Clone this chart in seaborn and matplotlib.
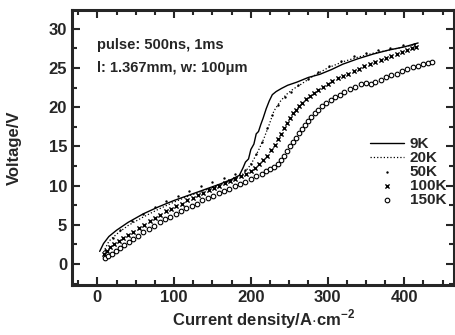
import seaborn as sns
import matplotlib.pyplot as plt
from matplotlib.ticker import MultipleLocator

# Datos (densidad de corriente A/cm², voltaje V)
x_9k = [3, 8, 15, 25, 40, 60, 80, 100, 120, 140, 160, 175, 185, 190, 193, 197, 200, 204, 207, 210,
        213, 216, 220, 224, 228, 233, 240, 248, 260, 275, 290, 305, 320, 340, 360, 380, 400, 418]
v_9k = [1.6, 2.6, 3.5, 4.3, 5.3, 6.4, 7.3, 8.1, 8.8, 9.5, 10.2, 10.8, 11.3, 12.3, 13.0, 13.4, 14.6, 15.3, 16.6, 16.9,
        17.8, 18.6, 19.8, 20.8, 21.6, 22.0, 22.4, 22.8, 23.2, 23.8, 24.2, 24.8, 25.5, 26.2, 26.8, 27.3, 27.7, 28.2]

x_20k = [8, 15, 25, 40, 60, 80, 100, 120, 140, 160, 180, 190, 197, 203, 210, 217, 224, 230, 238, 246,
         255, 265, 280, 300, 320, 340, 360, 380, 400, 415]
v_20k = [1.5, 2.9, 3.8, 4.9, 6.0, 7.0, 7.9, 8.7, 9.4, 10.1, 10.9, 11.5, 12.3, 13.2, 14.5, 16.0, 17.8, 19.5, 20.7, 21.6,
         22.3, 22.9, 23.9, 25.0, 25.8, 26.4, 26.9, 27.3, 27.7, 28.0]

x_50k = [10, 20, 30, 45, 60, 75, 90, 105, 120, 135, 150, 165, 180, 192, 200, 207, 214, 221, 228, 236,
         244, 252, 262, 274, 288, 302, 318, 334, 350, 366, 382, 398, 412]
v_50k = [1.8, 3.3, 4.3, 5.5, 6.4, 7.3, 8.0, 8.7, 9.3, 9.9, 10.5, 11.0, 11.5, 12.0, 12.8, 14.0, 15.6, 17.3, 19.0, 20.3,
         21.3, 22.0, 22.8, 23.6, 24.5, 25.2, 25.9, 26.5, 26.9, 27.3, 27.6, 27.9, 28.1]

x_100k = [8, 12, 17, 22, 28, 34, 40, 47, 54, 61, 68, 75, 82, 89, 96, 103, 110, 117, 124, 131,
          138, 145, 152, 159, 166, 173, 180, 187, 194, 200, 206, 211, 216, 221, 226, 231, 235, 239, 243, 247,
          251, 255, 259, 263, 267, 272, 277, 282, 288, 294, 300, 306, 313, 320, 327, 334, 341, 348, 355, 362,
          369, 376, 383, 390, 397, 404, 410, 415]
v_100k = [1.3, 1.7, 2.1, 2.5, 2.9, 3.3, 3.7, 4.1, 4.6, 5.0, 5.5, 5.9, 6.3, 6.7, 7.0, 7.4, 7.7, 8.1, 8.4, 8.8,
          9.1, 9.4, 9.7, 10.0, 10.3, 10.6, 10.9, 11.2, 11.5, 11.9, 12.3, 12.7, 13.2, 13.8, 14.5, 15.2, 15.9, 16.6, 17.3, 18.0,
          18.6, 19.2, 19.7, 20.2, 20.6, 21.0, 21.4, 21.8, 22.2, 22.6, 22.9, 23.3, 23.7, 24.0, 24.3, 24.6, 24.9, 25.2, 25.5, 25.8,
          26.0, 26.3, 26.5, 26.8, 27.0, 27.3, 27.5, 27.7]

x_150k = [10, 14, 19, 24, 29, 35, 41, 47, 53, 60, 67, 74, 81, 88, 95, 102, 109, 116, 123, 130,
          137, 144, 151, 158, 165, 172, 179, 186, 193, 200, 207, 214, 220, 225, 230, 235, 239, 243, 247, 251,
          255, 259, 263, 267, 271, 275, 279, 283, 288, 293, 298, 304, 310, 316, 322, 329, 336, 343, 350, 356,
          362, 369, 376, 383, 390, 397, 404, 411, 418, 425, 431, 436]
v_150k = [0.8, 1.0, 1.3, 1.7, 2.0, 2.4, 2.8, 3.2, 3.6, 4.1, 4.5, 4.9, 5.3, 5.7, 6.0, 6.4, 6.7, 7.1, 7.4, 7.7,
          8.1, 8.4, 8.7, 9.0, 9.3, 9.6, 9.9, 10.2, 10.5, 10.9, 11.2, 11.5, 11.8, 12.1, 12.4, 12.8, 13.2, 13.8, 14.4, 15.0,
          15.6, 16.1, 16.7, 17.2, 17.7, 18.2, 18.7, 19.2, 19.7, 20.1, 20.5, 20.9, 21.3, 21.6, 21.9, 22.3, 22.6, 22.9, 23.1, 22.9,
          23.2, 23.5, 23.8, 24.1, 24.3, 24.6, 24.9, 25.1, 25.3, 25.5, 25.7, 25.8]

sns.set_style("ticks")
plt.rcParams['font.family'] = ['Liberation Sans', 'DejaVu Sans']
plt.rcParams['font.weight'] = 'bold'
plt.rcParams['mathtext.fontset'] = 'custom'
plt.rcParams['mathtext.bf'] = 'Liberation Sans:bold'
plt.rcParams['mathtext.rm'] = 'Liberation Sans:bold'

fig = plt.figure(figsize=(4.56, 3.35), dpi=100)
ax = fig.add_axes([0.158, 0.149, 0.838, 0.821])

sns.lineplot(x=x_9k, y=v_9k, sort=False, estimator=None, color='black', lw=1.0, label='9K', ax=ax)
sns.lineplot(x=x_20k, y=v_20k, sort=False, estimator=None, color='black', lw=0.9, linestyle=':', label='20K', ax=ax)
sns.scatterplot(x=x_50k, y=v_50k, color='black', marker='o', s=3, linewidth=0, label='50K', ax=ax)
sns.scatterplot(x=x_100k, y=v_100k, color='black', marker='x', s=9, linewidth=1.0, label='100K', ax=ax)
sns.scatterplot(x=x_150k, y=v_150k, facecolor='white', edgecolor='black', marker='o', s=11,
                linewidth=0.8, label='150K', ax=ax)

ax.set_xlim(-33, 465)
ax.set_ylim(-2.7, 32.4)
ax.xaxis.set_major_locator(MultipleLocator(100))
ax.xaxis.set_minor_locator(MultipleLocator(25))
ax.yaxis.set_major_locator(MultipleLocator(5))
ax.yaxis.set_minor_locator(MultipleLocator(2.5))
ax.tick_params(which='both', direction='in', top=True, right=True, width=1.5, labelsize=12)
ax.tick_params(which='major', length=6)
ax.tick_params(which='minor', length=3.5)
for s in ax.spines.values():
    s.set_linewidth(2.2)

ax.set_xlabel('Current density/A$\\cdot$cm$^{-2}$', fontsize=12, fontweight='bold', labelpad=2)
ax.set_ylabel('Voltage/V', fontsize=12, fontweight='bold', labelpad=19)

ax.text(-1, 27.9, 'pulse: 500ns, 1ms', fontsize=10.5, fontweight='bold', va='center')
ax.text(-1, 25.0, 'l: 1.367mm, w: 100\u03bcm', fontsize=10.5, fontweight='bold', va='center')

ax.legend(loc='upper left', bbox_to_anchor=(0.76, 0.565), frameon=False, borderpad=0,
          handlelength=2.2, handletextpad=0.4, labelspacing=0.0,
          prop={'size': 11, 'weight': 'bold'})

plt.savefig('out.png', dpi=100)
